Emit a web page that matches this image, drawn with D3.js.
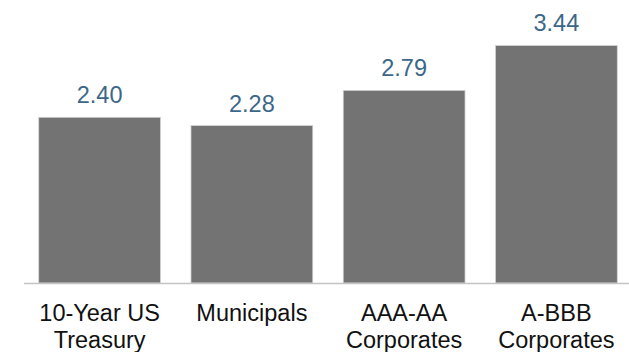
<!DOCTYPE html>
<html>
<head>
<meta charset="utf-8">
<script src="https://cdn.jsdelivr.net/npm/d3@7"></script>
<style>
  html, body { margin: 0; padding: 0; background: #ffffff; }
  svg { display: block; }
  text { font-family: "Liberation Sans", Arial, sans-serif; }
</style>
</head>
<body>
<svg id="chart" width="629" height="352"></svg>
<script>
const categories = ["10-Year US|Treasury", "Municipals", "AAA-AA|Corporates", "A-BBB|Corporates"];
const values = [2.40, 2.28, 2.79, 3.44];
const valueLabels = ["2.40", "2.28", "2.79", "3.44"];

const W = 629, H = 352;
const baseY = 283;
const svg = d3.select("#chart");

const x = d3.scaleBand()
  .domain(categories)
  .range([23.5, 632.5])
  .paddingInner(0.2)
  .paddingOuter(0.1);

const y = d3.scaleLinear()
  .domain([0, 4])
  .range([baseY, baseY - 4 * 69.05]);

svg.append("g")
  .selectAll("rect")
  .data(categories)
  .join("rect")
  .attr("x", d => x(d))
  .attr("y", (d, i) => y(values[i]))
  .attr("width", x.bandwidth())
  .attr("height", (d, i) => baseY - y(values[i]))
  .attr("fill", "#737373")
  .attr("stroke", "#d4d4d4")
  .attr("stroke-width", 0.8);

// baseline axis
const axis = d3.axisBottom(x).tickSize(0).tickFormat("");
const gAxis = svg.append("g")
  .attr("transform", `translate(0,${baseY + 0.5})`)
  .call(axis);
gAxis.select(".domain").remove();
gAxis.append("line")
  .attr("x1", 24).attr("x2", W)
  .attr("y1", 0).attr("y2", 0)
  .attr("stroke", "#c4c4c4")
  .attr("stroke-width", 1.5);

// value labels
svg.append("g")
  .selectAll("text")
  .data(categories)
  .join("text")
  .attr("x", d => x(d) + x.bandwidth() / 2)
  .attr("y", (d, i) => y(values[i]) - 14)
  .attr("text-anchor", "middle")
  .attr("font-size", "23.5px")
  .attr("fill", "#3b6788")
  .text((d, i) => valueLabels[i]);

// category labels
const cat = svg.append("g")
  .selectAll("text")
  .data(categories)
  .join("text")
  .attr("x", d => x(d) + x.bandwidth() / 2)
  .attr("y", 320.5)
  .attr("text-anchor", "middle")
  .attr("font-size", "23.5px")
  .attr("fill", "#111111");
cat.each(function(d) {
  const lines = d.split("|");
  const t = d3.select(this);
  lines.forEach((ln, i) => {
    t.append("tspan")
      .attr("x", x(d) + x.bandwidth() / 2)
      .attr("dy", i === 0 ? 0 : 27)
      .text(ln);
  });
});
</script>
</body>
</html>
